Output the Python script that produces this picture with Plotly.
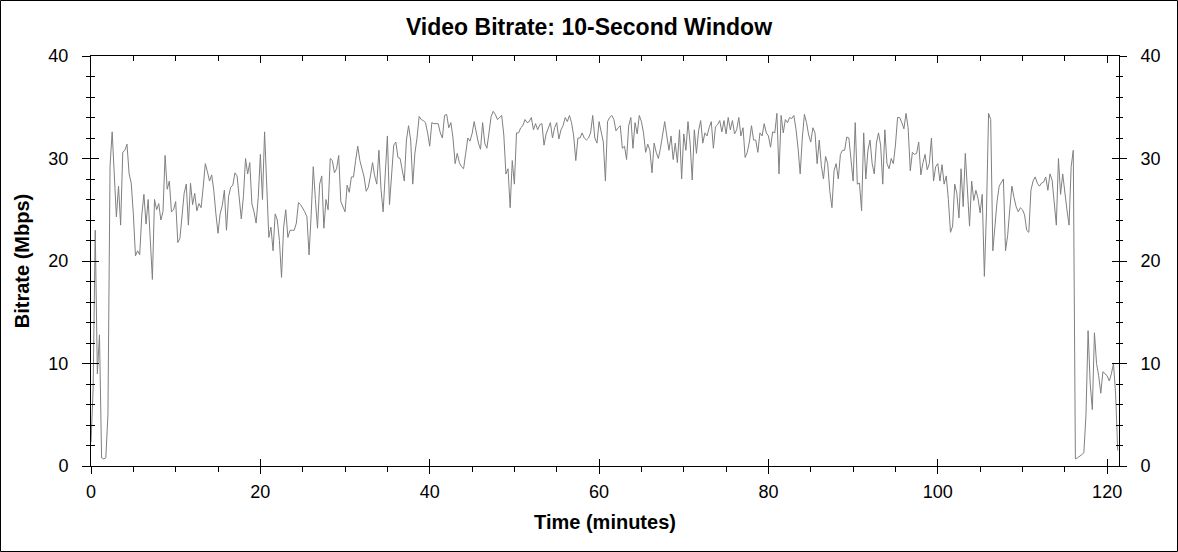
import numpy as np
import plotly.graph_objects as go

# bitrate (Mbps) sampled every 15 s, split in 20-minute blocks
STEP_MIN = 0.25

rate_00_20 = [
    2.3, 7.5, 23.0, 9.0, 12.8, 0.8, 0.7, 0.8, 5.0, 29.3, 32.6, 28.6, 24.3, 27.3, 23.5, 30.6,
    30.8, 31.4, 28.5, 27.6, 24.6, 20.5, 21.0, 20.6, 24.5, 26.5, 23.6, 26.0, 22.0, 18.2, 26.0, 25.0,
    25.6, 24.0, 24.8, 30.3, 27.0, 27.8, 24.8, 25.0, 25.8, 21.8, 22.2, 24.5, 26.6, 27.5, 23.5, 27.6,
    25.5, 26.6, 24.9, 25.6, 25.2, 27.2, 29.5, 28.7, 27.8, 28.4, 26.9, 24.6, 22.7, 24.6, 25.4, 26.9,
    23.0, 26.3, 27.2, 27.4, 28.6, 28.3, 25.9, 24.1, 26.3, 30.0, 28.5, 29.6, 25.6, 24.8, 23.7, 26.2,
]
rate_20_40 = [
    30.4, 26.0, 32.6, 27.5, 22.3, 23.3, 21.0, 24.6, 24.0, 22.0, 18.4, 23.3, 25.0, 22.3, 23.0, 23.0,
    23.0, 23.7, 25.7, 25.5, 25.2, 24.8, 24.3, 20.6, 24.5, 29.2, 26.0, 23.2, 27.5, 28.3, 23.2, 26.0,
    25.0, 30.0, 29.8, 28.6, 29.0, 30.3, 25.8, 25.2, 24.8, 27.4, 26.7, 28.2, 28.2, 29.8, 31.2, 29.8,
    28.9, 28.2, 26.8, 27.2, 28.3, 29.6, 28.3, 27.5, 30.8, 27.0, 24.8, 28.7, 32.2, 25.5, 28.5, 31.3,
    31.6, 30.1, 30.0, 28.7, 27.8, 31.8, 33.2, 31.8, 27.5, 30.5, 32.0, 34.1, 33.8, 33.7, 33.5, 32.5,
]
rate_40_60 = [
    31.2, 33.5, 33.4, 33.4, 33.4, 32.5, 32.0, 34.2, 34.3, 33.0, 33.5, 32.0, 29.5, 30.5, 29.6, 29.2,
    29.0, 30.5, 32.0, 31.7, 32.4, 33.6, 32.5, 31.5, 30.9, 33.5, 31.5, 31.0, 32.5, 34.1, 34.6, 34.3,
    33.8, 34.0, 34.2, 32.3, 28.5, 29.0, 25.2, 29.8, 27.5, 32.5, 32.5, 33.0, 33.2, 33.8, 33.5, 33.6,
    34.0, 32.8, 33.4, 32.8, 33.3, 33.4, 31.3, 32.4, 33.0, 33.5, 32.0, 33.0, 33.5, 31.9, 32.8, 33.2,
    34.0, 33.6, 34.2, 33.5, 32.2, 29.8, 32.0, 32.0, 32.5, 32.0, 31.8, 32.0, 32.5, 34.2, 32.0, 31.5,
]
rate_60_80 = [
    33.6, 32.4, 31.6, 27.8, 33.6, 34.0, 34.2, 33.8, 32.7, 33.0, 33.2, 31.0, 31.2, 29.9, 33.2, 34.0,
    31.0, 33.5, 32.4, 34.2, 33.6, 32.5, 30.6, 31.4, 30.8, 28.6, 31.5, 30.6, 30.0, 31.0, 32.4, 33.6,
    32.2, 30.8, 32.2, 29.9, 31.5, 29.6, 32.8, 28.0, 32.4, 30.8, 33.6, 31.5, 27.9, 32.8, 30.5, 32.7,
    33.7, 31.5, 32.5, 32.2, 33.0, 33.6, 31.0, 33.1, 33.3, 33.7, 32.6, 33.7, 32.4, 34.0, 32.8, 33.7,
    32.4, 32.8, 34.0, 32.2, 33.0, 30.1, 30.6, 31.6, 33.2, 31.8, 31.8, 30.6, 32.5, 32.2, 33.4, 32.5,
]
rate_80_100 = [
    32.2, 31.1, 32.6, 32.5, 34.4, 28.5, 34.2, 32.5, 33.8, 33.5, 34.0, 33.9, 34.2, 32.9, 31.0, 28.5,
    32.0, 34.3, 33.5, 32.3, 31.6, 33.0, 32.5, 29.5, 31.8, 29.3, 28.0, 30.2, 29.5, 26.8, 25.2, 28.8,
    29.5, 28.0, 30.4, 30.8, 30.8, 32.1, 32.0, 29.8, 27.8, 33.5, 27.5, 27.6, 24.9, 32.5, 28.0, 30.8,
    31.8, 29.5, 28.5, 31.5, 32.5, 31.3, 27.5, 32.8, 29.5, 29.0, 30.0, 29.5, 31.3, 34.0, 34.0, 33.5,
    32.9, 34.4, 33.0, 28.8, 30.6, 30.4, 30.5, 31.6, 28.4, 29.6, 30.4, 28.9, 29.5, 32.0, 27.8, 29.2,
]
rate_100_end = [
    29.5, 27.8, 29.4, 27.5, 28.3, 26.0, 22.8, 23.4, 27.5, 26.6, 24.2, 29.0, 25.3, 30.5, 27.0, 23.4,
    27.8, 25.9, 26.9, 26.1, 24.7, 26.5, 18.5, 24.8, 34.4, 33.8, 21.0, 23.5, 25.8, 27.3, 27.6, 28.0,
    21.0, 22.5, 25.0, 27.3, 26.2, 25.3, 24.8, 25.2, 25.0, 24.5, 23.0, 22.8, 26.9, 27.8, 28.2, 27.6,
    27.3, 27.6, 27.7, 28.2, 26.9, 28.5, 27.9, 25.5, 23.5, 30.0, 26.5, 28.5, 26.6, 25.0, 23.5, 29.2,
    30.8, 0.7, 0.8, 1.0, 1.1, 1.3, 5.0, 13.2, 8.0, 5.5, 13.0, 10.0, 8.8, 7.1, 9.2, 9.0,
    8.8, 8.3, 9.0, 10.0, 7.0, 1.5,
]

bitrate = rate_00_20 + rate_20_40 + rate_40_60 + rate_60_80 + rate_80_100 + rate_100_end
minutes = np.arange(len(bitrate)) * STEP_MIN

X_RANGE = [0, 121.4]
Y_RANGE = [0, 40]
X_TICKS = [0, 20, 40, 60, 80, 100, 120]
Y_TICKS = [0, 10, 20, 30, 40]

W, H = 1178, 552
ML, MR, MT, MB = 91, 59, 56, 86
FONT = 'Liberation Sans, Arial, sans-serif'

fig = go.Figure()
fig.add_trace(go.Scatter(
    x=minutes, y=bitrate, mode='lines',
    line=dict(color='#808080', width=1),
    showlegend=False, hoverinfo='x+y',
))
# empty traces so the overlay axes get drawn
for xa, ya in [('x2', 'y2'), ('x3', 'y3'), ('x3', 'y4')]:
    fig.add_trace(go.Scatter(x=[0], y=[0], mode='lines', xaxis=xa, yaxis=ya,
                             showlegend=False, hoverinfo='skip'))

tick_common = dict(tickcolor='black', tickwidth=1, showgrid=False, zeroline=False)

fig.update_layout(
    width=W, height=H,
    margin=dict(l=ML, r=MR, t=MT, b=MB),
    paper_bgcolor='white', plot_bgcolor='white',
    font=dict(family=FONT, size=18, color='black'),
    title=dict(text='<b>Video Bitrate: 10-Second Window</b>', x=0.5, xanchor='center',
               y=1 - 27 / H, yanchor='middle', font=dict(size=23)),
    xaxis=dict(
        range=X_RANGE, tickvals=X_TICKS, ticks='outside', ticklen=7,
        minor=dict(dtick=5, ticks='outside', ticklen=5, tickcolor='black'),
        showline=True, linecolor='black', linewidth=1,
        ticklabelstandoff=2,
        title=dict(text='<b>Time (minutes)</b>', standoff=14, font=dict(size=20)),
        **tick_common,
    ),
    xaxis2=dict(
        range=X_RANGE, tickvals=X_TICKS, ticks='inside', ticklen=7,
        overlaying='x', side='bottom', anchor='y', showticklabels=False,
        **tick_common,
    ),
    xaxis3=dict(
        range=X_RANGE, tickvals=X_TICKS, ticks='inside', ticklen=7,
        minor=dict(dtick=5, ticks='inside', ticklen=5, tickcolor='black'),
        overlaying='x', side='top', anchor='y', showticklabels=False,
        showline=True, linecolor='black', linewidth=1,
        **tick_common,
    ),
    yaxis=dict(
        range=Y_RANGE, tickvals=Y_TICKS, ticks='outside', ticklen=8,
        minor=dict(dtick=2, ticks='outside', ticklen=4, tickcolor='black'),
        showline=True, linecolor='black', linewidth=1,
        ticklabelstandoff=10,
        title=dict(text='<b>Bitrate (Mbps)</b>', standoff=13, font=dict(size=20)),
        **tick_common,
    ),
    yaxis2=dict(
        range=Y_RANGE, tickvals=Y_TICKS, ticks='inside', ticklen=8,
        minor=dict(dtick=2, ticks='inside', ticklen=4, tickcolor='black'),
        overlaying='y', side='left', anchor='x', showticklabels=False,
        **tick_common,
    ),
    yaxis3=dict(
        range=Y_RANGE, tickvals=Y_TICKS, ticks='outside', ticklen=7,
        minor=dict(dtick=2, ticks='outside', ticklen=3, tickcolor='black'),
        overlaying='y', side='right', anchor='x',
        showline=True, linecolor='black', linewidth=1,
        ticklabelstandoff=10,
        **tick_common,
    ),
    yaxis4=dict(
        range=Y_RANGE, tickvals=Y_TICKS, ticks='inside', ticklen=7,
        minor=dict(dtick=2, ticks='inside', ticklen=3, tickcolor='black'),
        overlaying='y', side='right', anchor='x', showticklabels=False,
        **tick_common,
    ),
)

# thin frame round the whole picture
pw, ph = W - ML - MR, H - MT - MB
fig.add_shape(
    type='rect', xref='paper', yref='paper',
    x0=(0.5 - ML) / pw, x1=1 + (MR - 0.5) / pw,
    y0=(0.5 - MB) / ph, y1=1 + (MT - 0.5) / ph,
    line=dict(color='black', width=1), layer='above',
)

# page margin off so the figure sits at the window corner
fig.write_html('out.html', config={'displayModeBar': False},
               post_script="document.body.style.margin='0';")
